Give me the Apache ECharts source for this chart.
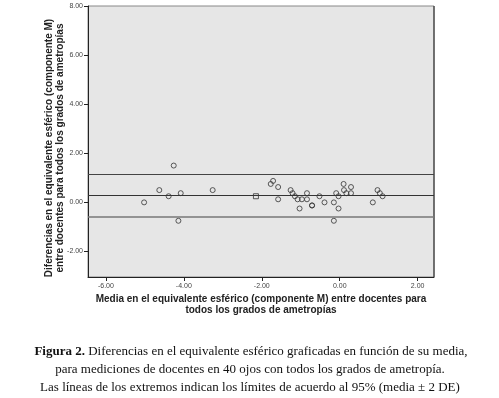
<!DOCTYPE html>
<html>
<head>
<meta charset="utf-8">
<script src="https://cdn.jsdelivr.net/npm/echarts@6/dist/echarts.min.js"></script>
<style>
  html, body { margin: 0; padding: 0; background: #fff; }
  #chart { width: 499px; height: 398px; }
</style>
</head>
<body>
<div id="chart"></div>
<script>
// media (x) y diferencia (y) de cada ojo
const mediaVals = [
  -5.02, -4.63, -4.26, -4.39, -4.08, -4.14, -3.26, -2.15,
  -1.77, -1.71, -1.58, -1.58, -1.26, -1.21, -1.15, -1.08,
  -0.97, -0.84, -0.84, -1.03, -0.71, -0.71, -0.52, -0.39,
  -0.15, -0.15, -0.09, -0.03, -0.03, 0.10, 0.11, 0.17,
  0.29, 0.29, 0.85, 0.97, 1.03, 1.10
]
const difVals = [
  0.00, 0.50, 1.50, 0.25, 0.375, -0.75, 0.50, 0.25,
  0.75, 0.875, 0.625, 0.125, 0.50, 0.375, 0.25, 0.125,
  0.125, 0.125, 0.375, -0.25, -0.125, -0.125, 0.25, 0.00,
  0.00, -0.75, 0.375, 0.25, -0.25, 0.75, 0.50, 0.375,
  0.625, 0.375, 0.00, 0.50, 0.375, 0.25
]
// indice del punto marcado con cuadrado
const squareIdx = [7]
// lineas: limite superior, media, limite inferior
const limiteSup = 1.14
const mediaDif = 0.27
const limiteInf = -0.60
const xTicks = [-6, -4, -2, 0, 2]
const yTicks = [-2, 0, 2, 4, 6, 8]

const chart = echarts.init(document.getElementById('chart'))

const points = mediaVals.map((x, i) => {
  const item = { value: [x, difVals[i]] }
  if (squareIdx.indexOf(i) >= 0) {
    item.symbol = 'rect'
    item.symbolSize = 5
  }
  return item
})

const axisFont = {
  fontFamily: 'Liberation Sans',
  fontSize: 7,
  color: '#444'
}

chart.setOption({
  animation: false,
  grid: {
    left: 88,
    right: 65,
    top: 6,
    bottom: 121,
    show: true,
    backgroundColor: '#e6e6e6',
    borderColor: '#888',
    borderWidth: 1
  },
  xAxis: {
    type: 'value',
    min: -6.46,
    max: 2.42,
    axisLine: { show: true, onZero: false, lineStyle: { color: '#222', width: 1 } },
    axisTick: { show: true, length: 4, lineStyle: { color: '#222' }, customValues: xTicks },
    axisLabel: Object.assign({
      margin: 6,
      customValues: xTicks,
      formatter: (v) => v.toFixed(2)
    }, axisFont),
    splitLine: { show: false }
  },
  yAxis: {
    type: 'value',
    min: -3.04,
    max: 8,
    axisLine: { show: true, onZero: false, lineStyle: { color: '#222', width: 1 } },
    axisTick: { show: true, length: 4, lineStyle: { color: '#222' }, customValues: yTicks },
    axisLabel: Object.assign({
      margin: 5,
      customValues: yTicks,
      formatter: (v) => v.toFixed(2)
    }, axisFont),
    splitLine: { show: false }
  },
  graphic: [
    // borde derecho oscuro
    {
      type: 'line',
      shape: { x1: 434, y1: 6, x2: 434, y2: 277 },
      style: { stroke: '#222', lineWidth: 1 }
    },
    {
      type: 'text',
      x: 55,
      y: 148,
      rotation: Math.PI / 2,
      style: {
        text: 'Diferencias en el equivalente esférico (componente M)\nentre docentes para todos los grados de ametropías',
        fontFamily: 'Liberation Sans',
        fontWeight: 'bold',
        fontSize: 10,
        lineHeight: 11,
        fill: '#222',
        align: 'center',
        verticalAlign: 'middle'
      }
    },
    {
      type: 'text',
      x: 261,
      y: 305,
      style: {
        text: 'Media en el equivalente esférico (componente M) entre docentes para\ntodos los grados de ametropías',
        fontFamily: 'Liberation Sans',
        fontWeight: 'bold',
        fontSize: 10,
        lineHeight: 11,
        fill: '#222',
        align: 'center',
        verticalAlign: 'middle'
      }
    },
    {
      type: 'text',
      x: 251,
      y: 352,
      style: {
        text: '{b|Figura 2.} Diferencias en el equivalente esférico graficadas en función de su media,',
        fontFamily: 'Liberation Serif',
        fontSize: 13,
        fill: '#111',
        align: 'center',
        verticalAlign: 'middle',
        rich: {
          b: { fontFamily: 'Liberation Serif', fontSize: 13, fontWeight: 'bold', fill: '#111' }
        }
      }
    },
    {
      type: 'text',
      x: 250,
      y: 370,
      style: {
        text: 'para mediciones de docentes en 40 ojos con todos los grados de ametropía.',
        fontFamily: 'Liberation Serif',
        fontSize: 13,
        fill: '#111',
        align: 'center',
        verticalAlign: 'middle'
      }
    },
    {
      type: 'text',
      x: 250,
      y: 388,
      style: {
        text: 'Las líneas de los extremos indican los límites de acuerdo al 95% (media ± 2 DE)',
        fontFamily: 'Liberation Serif',
        fontSize: 13,
        fill: '#111',
        align: 'center',
        verticalAlign: 'middle'
      }
    }
  ],
  series: [
    {
      type: 'scatter',
      data: points,
      symbol: 'circle',
      symbolSize: 5,
      itemStyle: {
        color: 'rgba(0,0,0,0)',
        borderColor: '#333',
        borderWidth: 1
      },
      markLine: {
        silent: true,
        symbol: 'none',
        label: { show: false },
        data: [
          { yAxis: limiteSup, lineStyle: { color: '#444', width: 1.2, type: 'solid' } },
          { yAxis: mediaDif, lineStyle: { color: '#333', width: 1.2, type: 'solid' } },
          { yAxis: limiteInf, lineStyle: { color: '#777', width: 1.5, type: 'solid' } }
        ]
      }
    }
  ]
})
</script>
</body>
</html>
